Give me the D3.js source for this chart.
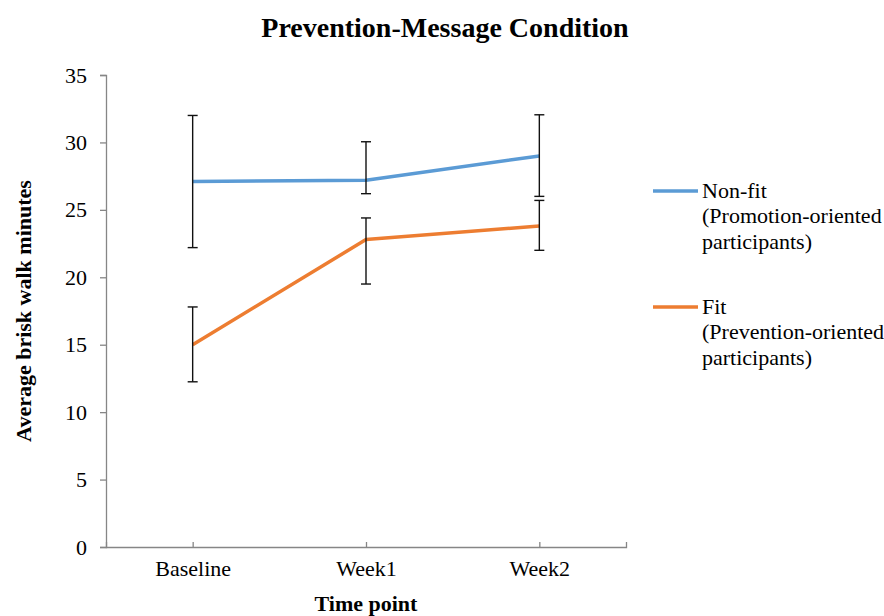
<!DOCTYPE html>
<html><head><meta charset="utf-8">
<script src="https://cdn.jsdelivr.net/npm/d3@7"></script>
<style>body{margin:0;background:#fff}svg{display:block}</style>
</head><body>
<svg id="c" width="884" height="616"></svg>
<script>
const categories = ["Baseline", "Week1", "Week2"];
const nonFitMean = [27.1, 27.2, 29.0];
const nonFitUpper = [32.0, 30.05, 32.05];
const nonFitLower = [22.2, 26.2, 26.0];
const fitMean = [15.0, 22.8, 23.8];
const fitUpper = [17.8, 24.4, 25.7];
const fitLower = [12.25, 19.5, 22.0];
const yTicks = [0, 5, 10, 15, 20, 25, 30, 35];
const seriesNames = [["Non-fit", "(Promotion-oriented", "participants)"], ["Fit", "(Prevention-oriented", "participants)"]];
const colors = ["#5B9BD5", "#ED7D31"];

const svg = d3.select("#c");
const serif = "'Liberation Serif', 'Times New Roman', serif";
const x = d3.scalePoint().domain(categories).range([106, 626]).padding(0.5);
const y = d3.scaleLinear().domain([0, 35]).range([547, 75]);

// title
svg.append("text").attr("x", 445).attr("y", 37).attr("text-anchor", "middle")
  .attr("font-family", serif).attr("font-weight", "bold").attr("font-size", 28)
  .text("Prevention-Message Condition");

// y axis
const ya = svg.append("g").attr("transform", "translate(106,0)")
  .call(d3.axisLeft(y).tickValues(yTicks).tickSize(6).tickPadding(13));
ya.select(".domain").attr("stroke", "#868686").attr("stroke-width", 1.3);
ya.selectAll(".tick line").attr("stroke", "#868686").attr("stroke-width", 1.3);
ya.selectAll("text").attr("font-family", serif).attr("font-size", 22).attr("fill", "#000");

// x axis
const xa = svg.append("g").attr("transform", "translate(0,547)")
  .call(d3.axisBottom(x).tickSize(-5).tickSizeOuter(-5).tickPadding(13));
xa.select(".domain").attr("stroke", "#868686").attr("stroke-width", 1.3);
xa.selectAll(".tick line").attr("stroke", "#868686").attr("stroke-width", 1.3);
xa.selectAll("text").attr("font-family", serif).attr("font-size", 22).attr("fill", "#000").attr("dy", "0.71em");

// axis titles
svg.append("text").attr("x", 366).attr("y", 611).attr("text-anchor", "middle")
  .attr("font-family", serif).attr("font-weight", "bold").attr("font-size", 22).text("Time point");
svg.append("text").attr("transform", "translate(31,311) rotate(-90)").attr("text-anchor", "middle")
  .attr("font-family", serif).attr("font-weight", "bold").attr("font-size", 22).text("Average brisk walk minutes");

const series = [
  {mean: nonFitMean, up: nonFitUpper, lo: nonFitLower},
  {mean: fitMean, up: fitUpper, lo: fitLower}
];
const line = d3.line().x((d, i) => x(categories[i])).y(d => y(d));

series.forEach((s, k) => {
  svg.append("path").datum(s.mean).attr("d", line).attr("fill", "none")
    .attr("stroke", colors[k]).attr("stroke-width", 3.5).attr("stroke-linejoin", "round");
});

// error bars
series.forEach((s) => {
  const g = svg.append("g").attr("stroke", "#111").attr("stroke-width", 1.4);
  categories.forEach((c, i) => {
    const cx = x(c);
    g.append("line").attr("x1", cx).attr("x2", cx).attr("y1", y(s.up[i])).attr("y2", y(s.lo[i]));
    g.append("line").attr("x1", cx - 5).attr("x2", cx + 5).attr("y1", y(s.up[i])).attr("y2", y(s.up[i]));
    g.append("line").attr("x1", cx - 5).attr("x2", cx + 5).attr("y1", y(s.lo[i])).attr("y2", y(s.lo[i]));
  });
});

// legend
const legY = [191, 307];
seriesNames.forEach((lines, k) => {
  svg.append("line").attr("x1", 653).attr("x2", 698).attr("y1", legY[k]).attr("y2", legY[k])
    .attr("stroke", colors[k]).attr("stroke-width", 3.5);
  const t = svg.append("text").attr("font-family", serif).attr("font-size", 22).attr("fill", "#000");
  lines.forEach((l, j) => {
    t.append("tspan").attr("x", 702).attr("y", legY[k] + 7 + j * 25.3).text(l);
  });
});
</script>
</body></html>
